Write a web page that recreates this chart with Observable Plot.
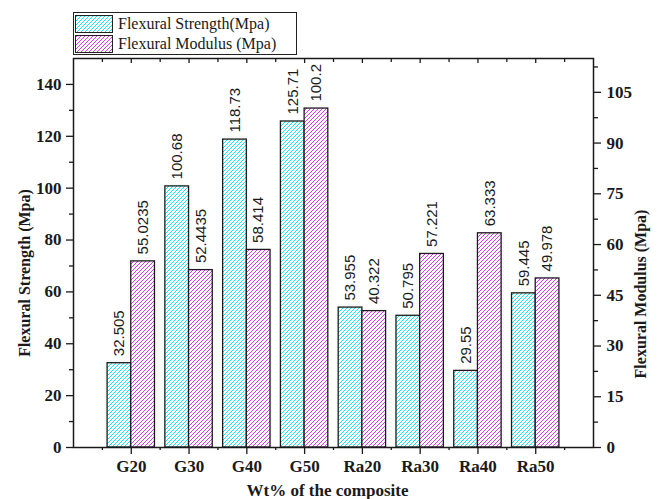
<!DOCTYPE html>
<html><head><meta charset="utf-8">
<script src="https://cdn.jsdelivr.net/npm/d3@7"></script>
<script src="https://cdn.jsdelivr.net/npm/@observablehq/plot@0.6"></script>
<style>
body{margin:0;background:#fff;width:657px;height:499px;overflow:hidden;}
#legend{position:relative;height:55px;}
.lbox{position:absolute;left:73px;top:12px;width:224px;height:43px;box-sizing:border-box;border:1.5px solid #222;}
.row{position:absolute;left:1px;display:flex;align-items:center;height:19px;font:16px "Liberation Serif";color:#1a1a1a;white-space:nowrap;}
.sw{width:38px;height:18px;box-sizing:border-box;border:1px solid #222;margin-right:5px;}
.swC{background:repeating-linear-gradient(135deg,#19e3f0 0 1px,#fff 1px 2.83px);}
.swM{background:repeating-linear-gradient(135deg,#d43cf2 0 1px,#fff 1px 2.83px);}
#chart svg{display:block;}
</style></head>
<body>
<svg width="1" height="1" style="position:absolute;left:0;top:0">
<defs>
<pattern id="hC" patternUnits="userSpaceOnUse" width="4" height="4"><rect width="4" height="4" fill="#fff"/><path d="M-1,1 l2,-2 M0,4 l4,-4 M3,5 l2,-2" stroke="#19e3f0" stroke-width="1"/></pattern>
<pattern id="hM" patternUnits="userSpaceOnUse" width="4" height="4"><rect width="4" height="4" fill="#fff"/><path d="M-1,1 l2,-2 M0,4 l4,-4 M3,5 l2,-2" stroke="#d43cf2" stroke-width="1"/></pattern>
</defs></svg>
<div id="legend"><div class="lbox">
<div class="row" style="top:1px"><div class="sw swC"></div><span>Flexural Strength(Mpa)</span></div>
<div class="row" style="top:21px"><div class="sw swM"></div><span>Flexural Modulus (Mpa)</span></div>
</div></div>
<div id="chart"></div>
<script>
const categories = ["G20","G30","G40","G50","Ra20","Ra30","Ra40","Ra50"];
const strength = [32.505,100.68,118.73,125.71,53.955,50.795,29.55,59.445];
const modulus = [55.0235,52.4435,58.414,100.2,40.322,57.221,63.333,49.978];
const leftTicks = [0,20,40,60,80,100,120,140];
const leftMinor = [10,30,50,70,90,110,130];
const rightTicks = [0,15,30,45,60,75,90,105];
const rightMinor = [7.5,22.5,37.5,52.5,67.5,82.5,97.5,112.5];
const leftMax = 150, rightMax = 115;
const k = leftMax / rightMax;
const w = 0.41;
const ink = "#1a1a1a";

const bars = categories.map((c, i) => ({c, i: i + 1, s: strength[i], m: modulus[i]}));
const xMajor = bars.map(d => d.i);
const xMinor = [0, ...xMajor].map(v => v + 0.5);

const chart = Plot.plot({
  width: 657, height: 444,
  marginTop: 3, marginBottom: 52, marginLeft: 73, marginRight: 64,
  x: {domain: [0, categories.length + 1]},
  y: {domain: [0, leftMax]},
  style: {fontFamily: "Liberation Serif", fontSize: "17px", fontWeight: "bold", color: ink, background: "white", overflow: "visible"},
  marks: [
    Plot.rect(bars, {x1: d => d.i - w, x2: d => d.i, y1: 0, y2: d => d.s, fill: "url(#hC)", stroke: ink, strokeWidth: 1.3}),
    Plot.rect(bars, {x1: d => d.i, x2: d => d.i + w, y1: 0, y2: d => d.m * k, fill: "url(#hM)", stroke: ink, strokeWidth: 1.3}),
    Plot.text(bars, {x: d => d.i - w / 2, y: d => d.s, text: d => String(d.s), rotate: -90, textAnchor: "start", dy: -7, fontFamily: "Liberation Sans", fontWeight: "normal", fontSize: 15, fill: ink, clip: true}),
    Plot.text(bars, {x: d => d.i + w / 2, y: d => d.m * k, text: d => String(d.m), rotate: -90, textAnchor: "start", dy: -7, fontFamily: "Liberation Sans", fontWeight: "normal", fontSize: 15, fill: ink, clip: true}),
    Plot.frame({stroke: ink, strokeWidth: 1.5}),
    Plot.axisY(leftTicks, {anchor: "left", tickSize: 7, tickPadding: 5, strokeWidth: 1.3, label: null}),
    Plot.axisY(leftMinor, {anchor: "left", tickSize: 4, tickFormat: () => "", strokeWidth: 1.3, label: null}),
    Plot.axisY(rightTicks.map(v => v * k), {anchor: "right", tickSize: 7, tickPadding: 6, strokeWidth: 1.3, tickFormat: d => String(Math.round(d / k)), label: null}),
    Plot.axisY(rightMinor.map(v => v * k), {anchor: "right", tickSize: 4, tickFormat: () => "", strokeWidth: 1.3, label: null}),
    Plot.axisX(xMajor, {anchor: "bottom", tickSize: 7, tickPadding: 5, strokeWidth: 1.3, tickFormat: i => categories[i - 1], label: null}),
    Plot.axisX(xMinor, {anchor: "bottom", tickSize: 3, tickFormat: () => "", strokeWidth: 1.3, label: null}),
    Plot.tickX(xMajor, {x: d => d, insetBottom: 384, stroke: ink, strokeWidth: 1.3}),
    Plot.tickX(xMinor, {x: d => d, insetBottom: 385, stroke: ink, strokeWidth: 1.3}),
    Plot.text(["Flexural Strength (Mpa)"], {text: d => d, frameAnchor: "left", textAnchor: "middle", lineAnchor: "middle", rotate: -90, dx: -49, dy: 20, fontSize: 16, fontWeight: "bold", fill: ink}),
    Plot.text(["Flexural Modulus (Mpa)"], {text: d => d, frameAnchor: "right", textAnchor: "middle", lineAnchor: "middle", rotate: -90, dx: 47, dy: 41, fontSize: 16, fontWeight: "bold", fill: ink}),
    Plot.text(["Wt% of the composite"], {text: d => d, frameAnchor: "bottom", textAnchor: "middle", lineAnchor: "middle", dx: -6, dy: 43, fontSize: 17, fontWeight: "bold", fill: ink})
  ]
});
document.getElementById("chart").appendChild(chart);
</script>
</body></html>
